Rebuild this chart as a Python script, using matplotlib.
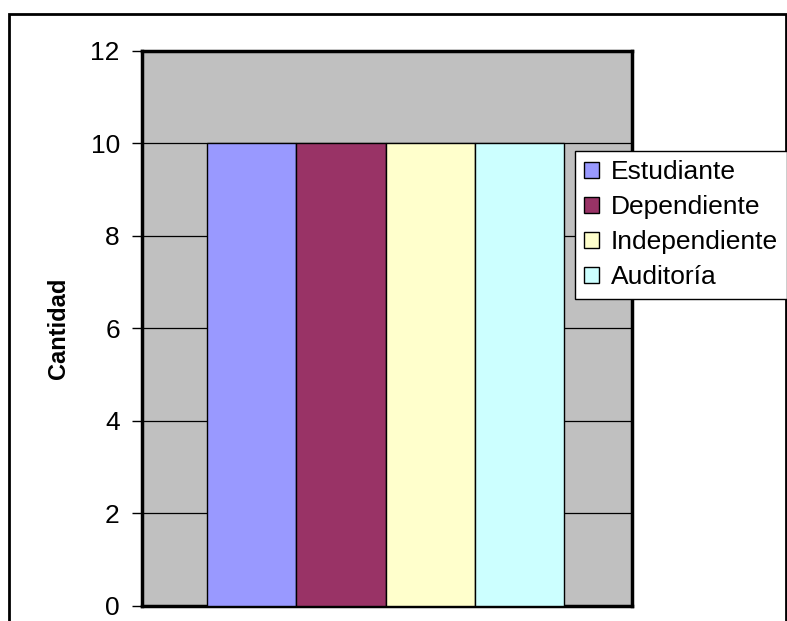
import matplotlib
matplotlib.use("Agg")
import matplotlib.pyplot as plt
from matplotlib.patches import Rectangle

# chart data
categorias = ["Estudiante", "Dependiente", "Independiente", "Auditoría"]
cantidad = [10, 10, 10, 10]
colores = ["#9999FF", "#993366", "#FFFFCC", "#CCFFFF"]
yticks = [0, 2, 4, 6, 8, 10, 12]

plt.rcParams["font.family"] = ["Liberation Sans", "DejaVu Sans"]

fig = plt.figure(figsize=(7.87, 6.21), dpi=100)
ax = fig.add_axes([0.1804, 0.0242, 0.6226, 0.8937])
ax.set_facecolor("#C0C0C0")

# outer chart frame (bottom runs off the image)
fig.patches.append(Rectangle((9 / 787, -0.05), 777 / 787, 1.05 - 14 / 621,
                             transform=fig.transFigure, fill=False,
                             edgecolor="black", linewidth=2, zorder=0))

for i, (cat, val, col) in enumerate(zip(categorias, cantidad, colores)):
    ax.bar(i, val, width=1.0, color=col, edgecolor="black", linewidth=1,
           label=cat, zorder=3)

ax.set_xlim(-1.23, 4.26)
ax.set_ylim(0, 12)
ax.set_yticks(yticks)
ax.set_xticks([])
ax.yaxis.grid(True, color="black", linewidth=0.9, zorder=1)
ax.set_axisbelow(True)
ax.tick_params(axis="y", labelsize=19, length=7, width=1, pad=9)

for sp in ax.spines.values():
    sp.set_linewidth(2.5)
    sp.set_color("black")

ax.set_ylabel("Cantidad", fontsize=17, fontweight="bold", labelpad=15)

leg = fig.legend(loc="upper left", bbox_to_anchor=(575 / 787, 1 - 151 / 621),
                 fontsize=19, frameon=True, fancybox=False, framealpha=1,
                 edgecolor="black", handlelength=0.55, handleheight=0.55,
                 handletextpad=0.45, labelspacing=0.42, borderpad=0.35,
                 borderaxespad=0)
leg.get_frame().set_linewidth(1)

fig.savefig("out.png", dpi=100)
